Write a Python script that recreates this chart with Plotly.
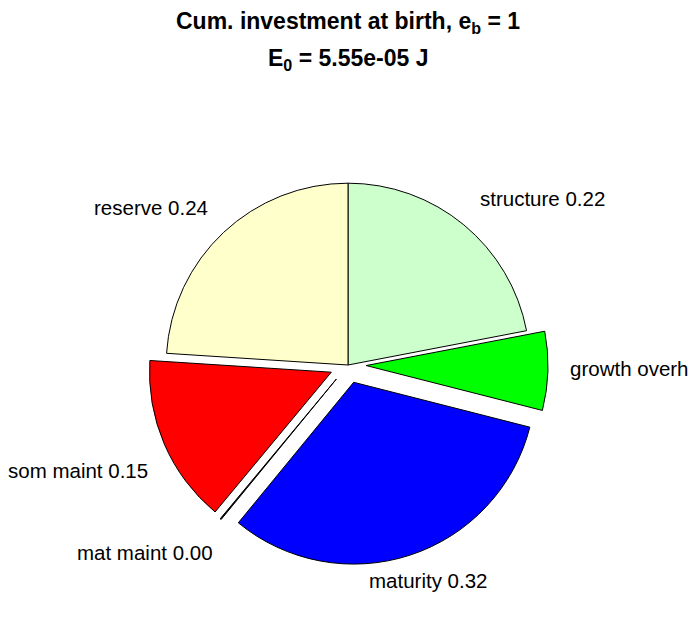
import math
import plotly.graph_objects as go

labels = ["structure", "growth overhead", "maturity", "mat maint", "som maint", "reserve"]
values = [0.22, 0.07, 0.32, 0.001, 0.15, 0.24]
colors = ["#CCFFCC", "#00FF00", "#0000FF", "#000000", "#FF0000", "#FFFFCC"]
explode = [0, 1, 1, 1, 1, 0]
title_line1 = "Cum. investment at birth, e<sub>b</sub> = 1"
title_line2 = "E<sub>0</sub> = 5.55e-05 J"

# the html page has an 8px body margin, so the figure is drawn 8px smaller
W, H = 688, 610
T, B, L, R = 156.8, 52.8, 0, 8
FONT = "Liberation Sans, Arial, Helvetica, sans-serif"
PULL = 0.1
LABEL_R = 1.2
# small pixel nudges of the outside labels (x right, y up), as MATLAB placed them
label_nudge = [(-9, -2), (-16, 4), (7, 9), (18, -5), (19, -12), (11, -2)]

pw, ph = W - L - R, H - T - B
rad = min(pw, ph) / 2 / (1 + PULL)   # pie radius in px, as plotly computes it

def py2paper(py):
    return (H - B - py) / ph

fig = go.Figure(go.Pie(
    labels=labels,
    values=values,
    sort=False,
    direction="clockwise",
    rotation=0,
    pull=[PULL * e for e in explode],
    marker=dict(colors=colors, line=dict(color="black", width=1)),
    textinfo="none",
    showlegend=False,
    hoverinfo="label+value",
))

total = sum(values)
annotations = []
cum = 0.0
for lab, v, e, (nx, ny) in zip(labels, values, explode, label_nudge):
    mid = (cum + v / 2) / total * 2 * math.pi
    dx, dy = math.sin(mid), math.cos(mid)
    off = PULL * e
    ax = 0.5 + (off + LABEL_R) * rad * dx / pw
    ay = 0.5 + (off + LABEL_R) * rad * dy / ph
    xanchor = "left" if dx > 0.35 else ("right" if dx < -0.35 else "center")
    annotations.append(dict(
        text=f"{lab} {v:.2f}", x=ax, y=ay, xref="paper", yref="paper",
        xanchor=xanchor, yanchor="middle", xshift=nx, yshift=ny, showarrow=False,
        font=dict(family=FONT, size=20.5, color="black")))
    cum += v

annotations += [
    dict(text="<b>" + title_line1 + "</b>", x=0.5, y=py2paper(14), xref="paper", yref="paper",
         showarrow=False, xanchor="center", yanchor="middle",
         font=dict(family=FONT, size=23, color="black")),
    dict(text="<b>" + title_line2 + "</b>", x=0.5, y=py2paper(51), xref="paper", yref="paper",
         showarrow=False, xanchor="center", yanchor="middle",
         font=dict(family=FONT, size=23, color="black")),
]

fig.update_layout(
    width=W, height=H,
    margin=dict(l=L, r=R, t=T, b=B, autoexpand=False),
    paper_bgcolor="white",
    plot_bgcolor="white",
    annotations=annotations,
)

fig.write_html("out.html")
